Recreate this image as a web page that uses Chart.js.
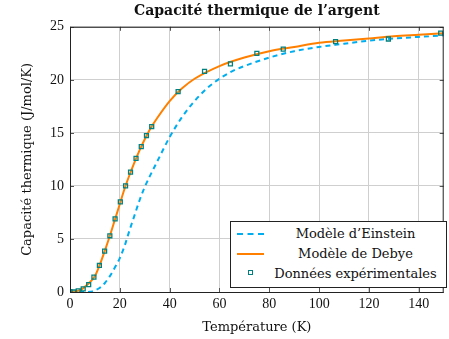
<!DOCTYPE html>
<html>
<head>
<meta charset="utf-8">
<script src="https://cdn.jsdelivr.net/npm/chart.js@4.4.1/dist/chart.umd.min.js"></script>
<style>
  body { margin: 0; background: #fff; }
  #wrap { position: relative; width: 449px; height: 339px; }
  #legend {
    position: absolute; left: 230px; top: 221px; width: 217px; height: 67px;
    border: 1px solid #222; background: #fff; box-sizing: border-box;
    font-family: "DejaVu Serif", serif; font-size: 13px; color: #111;
  }
  .row { position: absolute; left: 0; width: 100%; height: 18px; }
  .row span.txt { position: absolute; left: 36px; right: 2px; text-align: center; line-height: 18px; white-space: nowrap; }
  .sample { position: absolute; left: 6px; top: 8px; width: 27px; height: 0; }
</style>
</head>
<body>
<div id="wrap">
  <canvas id="myChart" width="449" height="339"></canvas>
  <div id="legend">
    <div class="row" style="top:3px"><div class="sample" style="border-top:2px dashed #00aeef"></div><span class="txt">Modèle d’Einstein</span></div>
    <div class="row" style="top:23px"><div class="sample" style="border-top:2px solid #ff8000"></div><span class="txt">Modèle de Debye</span></div>
    <div class="row" style="top:43px"><div class="sample" style="left:17px;top:5px;width:5px;height:5px;border:1px solid #00807f;box-sizing:border-box"></div><span class="txt">Données expérimentales</span></div>
  </div>
</div>
<script>
// data
const tempData = [0, 1.5, 3.3, 5.3, 7.5, 9.6, 11.8, 13.9, 16, 18.1, 20.2, 22.3, 24.3, 26.5, 28.6, 30.7, 32.8, 43.4, 54, 64.4, 75, 85.6, 106.6, 127.8, 148.8];
const cData = [0.03, 0, 0.1, 0.3, 0.7, 1.4, 2.5, 3.85, 5.3, 6.9, 8.5, 10.0, 11.3, 12.6, 13.7, 14.75, 15.6, 18.9, 20.8, 21.5, 22.5, 22.9, 23.6, 23.85, 24.4];

const tempEinstein = [0, 5, 8, 10, 12, 14, 16, 18, 20, 22, 24, 26, 28, 30, 32, 35, 40, 45, 50, 55, 60, 65, 70, 80, 90, 100, 110, 120, 130, 140, 150];
const cEinstein = [0, 0, 0.02, 0.15, 0.4, 0.85, 1.5, 2.3, 3.2, 4.4, 5.9, 7.3, 8.7, 9.9, 10.9, 12.3, 14.6, 16.5, 18.0, 19.2, 20.1, 20.8, 21.3, 22.1, 22.7, 23.1, 23.4, 23.7, 23.9, 24.05, 24.2];

const tempDebye = [0, 3, 5, 7, 10, 12, 14, 16, 18, 20, 22, 24, 26, 28, 30, 32, 35, 40, 45, 50, 60, 70, 80, 90, 100, 110, 120, 130, 140, 150];
const cDebye = [0, 0.1, 0.3, 0.7, 1.5, 2.6, 3.9, 5.3, 6.8, 8.3, 9.8, 11.1, 12.3, 13.4, 14.4, 15.3, 16.4, 18.0, 19.2, 20.1, 21.3, 22.1, 22.7, 23.1, 23.5, 23.7, 23.9, 24.1, 24.25, 24.4];

const xTicks = [0, 20, 40, 60, 80, 100, 120, 140];
const yTicks = [0, 5, 10, 15, 20, 25];

const pts = (xs, ys) => xs.map((x, i) => ({ x: x, y: ys[i] }));
const serif = '"DejaVu Serif", serif';
const tickFont = '"Liberation Serif", serif';

// small tick marks on all four sides, like pgfplots
const frameTicks = {
  id: 'frameTicks',
  afterDraw(chart) {
    const c = chart.ctx, a = chart.chartArea;
    const xs = chart.scales.x, ys = chart.scales.y;
    c.save();
    c.strokeStyle = '#555';
    c.lineWidth = 1;
    c.beginPath();
    xTicks.forEach(t => {
      const p = Math.round(xs.getPixelForValue(t)) + 0.5;
      c.moveTo(p, a.bottom); c.lineTo(p, a.bottom - 4);
      c.moveTo(p, a.top); c.lineTo(p, a.top + 4);
    });
    yTicks.forEach(t => {
      const p = Math.round(ys.getPixelForValue(t)) + 0.5;
      c.moveTo(a.left, p); c.lineTo(a.left + 4, p);
      c.moveTo(a.right, p); c.lineTo(a.right - 4, p);
    });
    c.stroke();
    c.strokeStyle = '#222';
    c.strokeRect(a.left + 0.5, a.top + 0.5, a.right - a.left - 1, a.bottom - a.top);
    c.restore();
  }
};

const ctx = document.getElementById('myChart').getContext('2d');
new Chart(ctx, {
  type: 'scatter',
  data: {
    datasets: [
      {
        label: 'Données expérimentales',
        data: pts(tempData, cData),
        pointStyle: 'rect',
        pointRadius: 2.8,
        borderColor: '#00807f',
        backgroundColor: 'rgba(255,255,255,0)',
        borderWidth: 1.3,
        order: 0
      },
      {
        label: 'Modèle de Debye',
        data: pts(tempDebye, cDebye),
        showLine: true,
        borderColor: '#ff8000',
        borderWidth: 2,
        pointRadius: 0,
        cubicInterpolationMode: 'monotone',
        order: 1
      },
      {
        label: "Modèle d’Einstein",
        data: pts(tempEinstein, cEinstein),
        showLine: true,
        borderColor: '#00aeef',
        borderWidth: 2,
        borderDash: [5, 4],
        pointRadius: 0,
        cubicInterpolationMode: 'monotone',
        order: 2
      }
    ]
  },
  options: {
    responsive: false,
    animation: false,
    layout: { padding: { left: 0, right: 1, top: 0, bottom: 0 } },
    plugins: {
      legend: { display: false },
      tooltip: { enabled: false },
      title: {
        display: true,
        fullSize: false,
        text: 'Capacité thermique de l’argent',
        color: '#111',
        font: { family: serif, size: 14, weight: 'bold' },
        padding: { top: 3, bottom: 7 }
      }
    },
    scales: {
      x: {
        type: 'linear', min: 0, max: 150,
        afterBuildTicks: s => { s.ticks = xTicks.map(v => ({ value: v })); },
        afterFit: s => { s.height = 47; },
        grid: { color: '#cfcfcf', drawTicks: false },
        border: { display: false },
        ticks: { color: '#111', padding: 4, font: { family: tickFont, size: 14 } },
        title: { display: true, text: 'Température (K)', color: '#111', padding: { top: 2, bottom: 4 }, font: { family: serif, size: 13 } }
      },
      y: {
        type: 'linear', min: 0, max: 25,
        afterBuildTicks: s => { s.ticks = yTicks.map(v => ({ value: v })); },
        afterFit: s => { s.width = 70; },
        grid: { color: '#cfcfcf', drawTicks: false },
        border: { display: false },
        ticks: { color: '#111', padding: 6, font: { family: tickFont, size: 14 } },
        title: { display: true, text: 'Capacité thermique (J/mol/K)', color: '#111', padding: { top: 20, bottom: 4 }, font: { family: serif, size: 13 } }
      }
    }
  },
  plugins: [frameTicks]
});
</script>
</body>
</html>
